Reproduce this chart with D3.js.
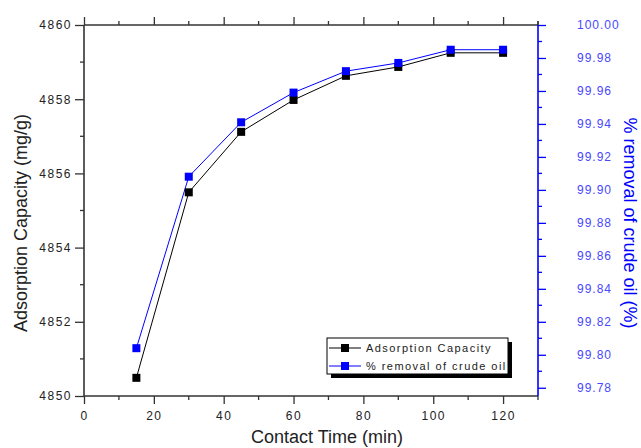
<!DOCTYPE html>
<html><head><meta charset="utf-8">
<script src="https://cdn.jsdelivr.net/npm/d3@7"></script>
<style>body{margin:0;background:#fff}svg{display:block}</style>
</head><body>
<svg id="c" width="641" height="448"></svg>
<script>
const times = [15, 30, 45, 60, 75, 90, 105, 120];
const adsorptionCapacity = [4850.49, 4855.49, 4857.12, 4857.98, 4858.63, 4858.87, 4859.25, 4859.25];
const removalPct = [99.804, 99.908, 99.941, 99.959, 99.972, 99.977, 99.985, 99.985];
const xTicks = [0, 20, 40, 60, 80, 100, 120];
const yLeftTicks = [4850, 4852, 4854, 4856, 4858, 4860];
const yRightTicks = [99.78, 99.80, 99.82, 99.84, 99.86, 99.88, 99.90, 99.92, 99.94, 99.96, 99.98, 100.00];

const svg = d3.select("#c");
const L = 84, R = 538, T = 25, B = 396;
const x = d3.scaleLinear().domain([0, 130]).range([L, R]);
const yL = d3.scaleLinear().domain([4850, 4860]).range([B, T]);
const yR = d3.scaleLinear().domain([99.775, 100]).range([B, T]);
const font = "'Liberation Sans', Arial, sans-serif";
const axCol = "#333";

function styleAxis(g, col, textCol, ls) {
  g.select(".domain").remove();
  g.selectAll("line").attr("stroke", col).attr("stroke-width", 1.3);
  g.selectAll("text").attr("fill", textCol).style("font-family", font).style("font-size", "12px").style("letter-spacing", ls + "px");
}
const xMinor = d3.range(10, 131, 20);
const yLMinor = d3.range(4851, 4860, 2);
const yRMinor = d3.range(0, 11).map(i => 99.79 + i * 0.02);

// bottom
const gb = svg.append("g").attr("transform", `translate(0,${B})`)
  .call(d3.axisBottom(x).tickValues(xTicks).tickFormat(d3.format("d")).tickSize(8).tickPadding(7));
styleAxis(gb, axCol, "#222", 1.5);
gb.selectAll(".minor").data(xMinor).enter().append("line")
  .attr("x1", d => x(d)).attr("x2", d => x(d)).attr("y1", 0).attr("y2", 4).attr("stroke", axCol).attr("stroke-width", 1.3);
// top
const gt = svg.append("g").attr("transform", `translate(0,${T})`)
  .call(d3.axisTop(x).tickValues(xTicks).tickFormat("").tickSize(8));
styleAxis(gt, axCol, "#222", 1.5);
gt.selectAll(".minor").data(xMinor).enter().append("line")
  .attr("x1", d => x(d)).attr("x2", d => x(d)).attr("y1", 0).attr("y2", -4).attr("stroke", axCol).attr("stroke-width", 1.3);
// left
const gl = svg.append("g").attr("transform", `translate(${L},0)`)
  .call(d3.axisLeft(yL).tickValues(yLeftTicks).tickFormat(d3.format("d")).tickSize(9).tickPadding(3));
styleAxis(gl, axCol, "#222", 1.5);
gl.selectAll(".minor").data(yLMinor).enter().append("line")
  .attr("y1", d => yL(d)).attr("y2", d => yL(d)).attr("x1", 0).attr("x2", -4).attr("stroke", axCol).attr("stroke-width", 1.3);
// right
const gr = svg.append("g").attr("transform", `translate(${R},0)`)
  .call(d3.axisRight(yR).tickValues(yRightTicks).tickFormat(d3.format(".2f")).tickSize(8).tickPadding(31));
styleAxis(gr, "#0000ff", "#4848ff", 1.0);
gr.selectAll(".minor").data(yRMinor).enter().append("line")
  .attr("y1", d => yR(d)).attr("y2", d => yR(d)).attr("x1", 0).attr("x2", 4).attr("stroke", "#0000ff").attr("stroke-width", 1.3);

// axis lines
svg.append("line").attr("x1", L).attr("x2", R).attr("y1", B).attr("y2", B).attr("stroke", axCol).attr("stroke-width", 1.6);
svg.append("line").attr("x1", L).attr("x2", R).attr("y1", T).attr("y2", T).attr("stroke", axCol).attr("stroke-width", 1.6);
svg.append("line").attr("x1", L).attr("x2", L).attr("y1", T).attr("y2", B).attr("stroke", axCol).attr("stroke-width", 1.6);
svg.append("line").attr("x1", R).attr("x2", R).attr("y1", T).attr("y2", B).attr("stroke", "#0000ff").attr("stroke-width", 1.6);
svg.append("line").attr("x1", R).attr("x2", R).attr("y1", T).attr("y2", T - 4).attr("stroke", axCol).attr("stroke-width", 1.3);

// series
const blackData = times.map((t, i) => [t, adsorptionCapacity[i]]);
const blueData = times.map((t, i) => [t, removalPct[i]]);
svg.append("path").datum(blackData)
  .attr("d", d3.line().x(d => x(d[0])).y(d => yL(d[1])))
  .attr("fill", "none").attr("stroke", "#000").attr("stroke-width", 1);
svg.append("path").datum(blueData)
  .attr("d", d3.line().x(d => x(d[0])).y(d => yR(d[1])))
  .attr("fill", "none").attr("stroke", "#0000ff").attr("stroke-width", 1);
const ms = 8;
svg.selectAll(".mb").data(blackData).enter().append("rect")
  .attr("x", d => x(d[0]) - ms / 2).attr("y", d => yL(d[1]) - ms / 2).attr("width", ms).attr("height", ms)
  .attr("fill", "#000");
svg.selectAll(".mu").data(blueData).enter().append("rect")
  .attr("x", d => x(d[0]) - ms / 2).attr("y", d => yR(d[1]) - ms / 2).attr("width", ms).attr("height", ms)
  .attr("fill", "#0000ff");

// legend
const lg = svg.append("g");
lg.append("rect").attr("x", 331).attr("y", 342).attr("width", 181).attr("height", 36).attr("fill", "#000");
lg.append("rect").attr("x", 327).attr("y", 338).attr("width", 181).attr("height", 36).attr("fill", "#fff").attr("stroke", "#000").attr("stroke-width", 1);
const legendItems = [["Adsorption Capacity", "#000"], ["% removal of crude oil", "#0000ff"]];
legendItems.forEach((it, i) => {
  const yy = 348 + i * 18;
  lg.append("line").attr("x1", 329).attr("x2", 361).attr("y1", yy).attr("y2", yy).attr("stroke", it[1]).attr("stroke-width", 1);
  lg.append("rect").attr("x", 341).attr("y", yy - 4).attr("width", 8).attr("height", 8).attr("fill", it[1]);
  lg.append("text").attr("x", 366).attr("y", yy + 4).text(it[0])
    .style("font-family", font).style("font-size", "11px").style("letter-spacing", "1.45px").attr("fill", "#222");
});

// titles
svg.append("text").attr("x", 327).attr("y", 443).attr("text-anchor", "middle").text("Contact Time (min)")
  .style("font-family", font).style("font-size", "18px").attr("fill", "#222");
svg.append("text").attr("transform", "translate(27,223) rotate(-90)").attr("text-anchor", "middle").text("Adsorption Capacity (mg/g)")
  .style("font-family", font).style("font-size", "18px").attr("fill", "#222");
svg.append("text").attr("transform", "translate(624,223) rotate(90)").attr("text-anchor", "middle").text("% removal of crude oil (%)")
  .style("font-family", font).style("font-size", "18px").attr("fill", "#0000ff");
</script>
</body></html>
